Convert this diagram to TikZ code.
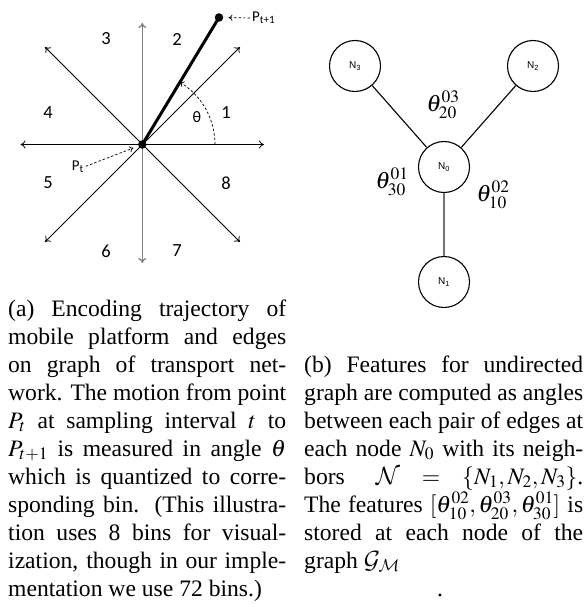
\documentclass[tikz,border=0pt]{standalone}
\usepackage{mathptmx}
\usepackage{fontspec}
\setmainfont{Liberation Serif}
\newfontfamily\labfont{Carlito}
\newfontfamily\nfont{Liberation Sans}
\DeclareMathAlphabet{\mathcal}{OMS}{cmsy}{m}{n}
\usetikzlibrary{arrows.meta}
\newcommand\jl[1]{\hbox to\hsize{#1}}
\newcommand\capfont{\fontsize{23.6}{28}\selectfont}
\begin{document}
\begin{tikzpicture}[x=1pt,y=-1pt,
  axis/.style={line width=0.8pt,{To[length=5pt,width=8pt]}-{To[length=5pt,width=8pt]}},
  grayaxis/.style={axis,draw=black!50,line width=1.3pt},
  bin/.style={font=\labfont\fontsize{18.5}{20}\selectfont},
  plab/.style={font=\labfont\fontsize{15}{18}\selectfont,inner sep=0pt},
  dashlead/.style={dash pattern=on 2.5pt off 2pt,line width=0.7pt,-{To[length=4pt,width=6pt]}},
  dot/.style={circle,fill=black,inner sep=0pt,minimum size=8.5pt},
  gnode/.style={circle,draw,line width=1.1pt,minimum size=51pt,inner sep=0pt,font=\nfont\fontsize{10}{12}\selectfont},
  gedge/.style={line width=1.1pt},
  mlab/.style={font=\capfont,inner sep=0pt},
  captext/.style={inner sep=0pt,anchor=base west}]
\useasboundingbox (0,0) rectangle (587,607);

% ---------- left diagram ----------
\coordinate (c) at (142.3,144.5);
\coordinate (l) at (20.5,144.5);
\coordinate (r) at (264,144.5);
\coordinate (t) at (142.3,23);
\coordinate (b) at (142.3,263);
\coordinate (ul) at (45,47);
\coordinate (ur) at (240,47);
\coordinate (ll) at (45,242);
\coordinate (lr) at (240,242);
\draw[axis] (l) -- (r);
\draw[axis] (ul) -- (lr);
\draw[axis] (ur) -- (ll);
\draw[grayaxis] (t) -- (b);

\node[bin] (b3) at (106,39) {3};
\node[bin] (b2) at (177,39) {2};
\node[bin] (b4) at (48,113) {4};
\node[bin] (b1) at (226,113) {1};
\node[bin] (b5) at (48,183) {5};
\node[bin] (b8) at (226,183) {8};
\node[bin] (b6) at (106,251) {6};
\node[bin] (b7) at (177,251) {7};

\node[dot] (pt) at (c) {};
\node[dot] (pt1) at (219,17.5) {};
\draw[line width=3pt] (pt.center) -- (pt1.center);

\draw[dash pattern=on 2.5pt off 2pt,line width=0.7pt,-{To[length=4pt,width=6pt]}]
  (215,144.5) arc[start angle=0,end angle=-58.8,radius=72.7];
\node[font=\labfont\fontsize{16}{18}\selectfont] (th) at (197,117) {θ};

\node[plab,anchor=west] (lp1) at (252,18) {P\textsubscript{t+1}};
\draw[dashlead,shorten >=5pt,shorten <=2pt] (lp1.west) -- (pt1);
\node[plab,anchor=east] (lpt) at (84,167) {P\textsubscript{t}};
\draw[dashlead,shorten >=5pt,shorten <=2pt] (lpt.east) -- (pt);

% ---------- right diagram ----------
\node[gnode] (n3) at (355,66) {N\textsubscript{3}};
\node[gnode] (n2) at (533,66) {N\textsubscript{2}};
\node[gnode] (n0) at (444,167) {N\textsubscript{0}};
\node[gnode] (n1) at (444,282) {N\textsubscript{1}};
\draw[gedge] (n3) -- (n0);
\draw[gedge] (n2) -- (n0);
\draw[gedge,draw=black!55,line width=1.4pt] (n0) -- (n1);
\node[mlab] (a03) at (443,105) {$\theta^{03}_{20}$};
\node[mlab] (a01) at (392,182) {$\theta^{01}_{30}$};
\node[mlab] (a02) at (493,195) {$\theta^{02}_{10}$};

% ---------- captions ----------
\node[captext] (capa) at (8,596) {\vbox{\capfont\hsize=278pt\lineskiplimit=-100pt
\jl{(a) Encoding trajectory of}
\jl{mobile platform and edges}
\jl{on graph of transport net-}
\jl{work. The motion from point}
\jl{$P_t$ at sampling interval $t$ to}
\jl{$P_{t+1}$ is measured in angle $\theta$}
\jl{which is quantized to corre-}
\jl{sponding bin. (This illustra-}
\jl{tion uses 8 bins for visual-}
\jl{ization, though in our imple-}
\hbox{mentation we use 72 bins.)}}};

\node[captext] (capb) at (304,568) {\vbox{\capfont\hsize=279pt\lineskiplimit=-100pt
\jl{(b) Features for undirected}
\jl{graph are computed as angles}
\jl{between each pair of edges at}
\jl{each node $N_0$ with its neigh-}
\jl{bors $\mathcal{N} = \{N_1, N_2, N_3\}$.}
\jl{The features $[\theta^{02}_{10}, \theta^{03}_{20}, \theta^{01}_{30}]$ is}
\jl{stored at each node of the}
\hbox{graph $\mathcal{G}_\mathcal{M}$}}};
\node[inner sep=0pt,anchor=base,font=\capfont] (dot) at (440,596) {.};
\end{tikzpicture}
\end{document}
